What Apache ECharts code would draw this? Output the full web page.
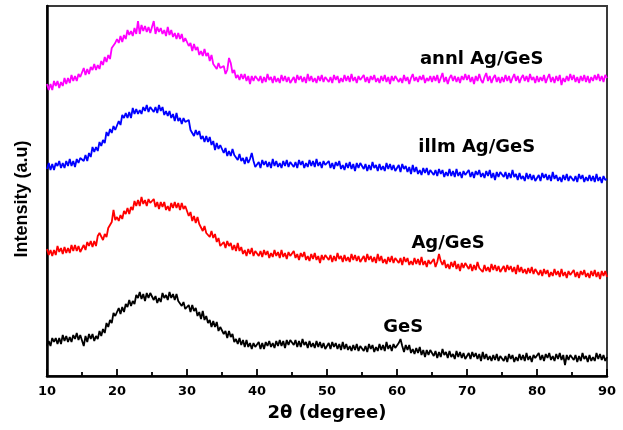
<!DOCTYPE html>
<html>
<head>
<meta charset="utf-8">
<script src="https://cdn.jsdelivr.net/npm/echarts@6/dist/echarts.min.js"></script>
<style>
  html, body { margin: 0; padding: 0; background: #ffffff; }
  #chart { width: 623px; height: 430px; }
</style>
</head>
<body>
<div id="chart"></div>
<script>
// XRD scan grid: 2θ from 10° to 90° in 0.25° steps
const scanStart = 10;
const scanStep = 0.25;

// Intensities (a.u.), each pattern already offset vertically for stacking
const annlAgGeS = [
  292,286,292,286,295,290,295,288,294,290,298,292,298,293,301,295,300,295,302,299,
  301,308,301,307,302,309,306,312,306,311,307,315,311,319,314,321,317,328,326,333,
  337,333,340,334,341,337,346,341,345,340,348,342,355,342,351,345,350,344,349,343,
  343,355,342,349,344,348,342,346,340,349,341,346,339,343,337,343,337,342,334,338,
  338,330,333,325,332,326,329,321,325,320,327,320,323,315,321,312,314,307,313,308,
  306,310,302,306,318,313,303,306,298,301,296,302,297,302,295,300,292,300,295,300,
  301,295,300,293,299,294,302,296,299,293,300,294,298,293,301,295,300,294,299,293,
  294,299,293,301,296,300,294,299,293,302,295,300,294,298,293,300,295,301,294,299,
  300,294,299,293,301,296,300,293,298,294,301,295,300,294,302,295,299,293,300,296,
  295,301,294,299,293,300,296,301,294,298,293,300,295,301,294,299,292,300,295,300,
  300,294,298,293,301,295,299,292,298,302,295,299,294,300,296,301,293,298,295,300,
  294,300,295,301,293,298,303,294,299,292,298,301,295,300,294,299,293,300,296,302,
  296,301,294,299,292,300,295,302,296,293,299,303,295,300,293,298,301,294,299,293,
  299,294,301,295,300,293,298,302,295,300,293,298,301,295,300,294,302,296,299,293,
  300,294,299,295,301,293,298,302,294,299,293,300,295,301,291,298,294,300,295,302,
  296,301,294,299,293,300,295,301,294,300,293,299,295,301,296,302,295,300,294,301,
  298
];

const illmAgGeS = [
  207,213,206,212,206,213,210,215,208,213,208,215,210,217,210,215,209,217,213,218,
  220,215,221,215,223,219,229,224,229,225,234,230,236,233,244,240,247,243,250,246,
  248,255,251,261,258,263,258,264,258,268,262,267,262,266,262,269,265,271,264,269,
  270,264,269,263,271,265,269,261,265,260,265,258,262,255,263,255,258,252,258,254,
  252,256,246,248,240,246,241,245,237,240,234,240,234,239,231,235,226,233,227,231,
  230,223,228,220,225,220,227,221,223,216,222,215,218,212,219,213,217,223,215,209,
  209,214,208,216,211,215,209,214,208,217,210,215,209,213,208,215,210,216,209,214,
  215,209,214,208,216,211,215,208,213,209,216,210,215,209,217,210,214,208,215,211,
  209,215,208,213,207,214,210,215,207,211,206,213,208,214,207,212,205,213,208,213,
  213,207,212,205,211,206,214,208,211,205,212,206,210,205,213,207,212,206,211,205,
  206,211,204,212,207,210,204,209,202,211,204,209,202,206,201,208,203,208,201,206,
  207,201,206,200,207,202,206,199,204,200,207,200,205,199,207,200,204,198,205,201,
  200,206,199,204,198,205,201,206,199,203,198,205,200,206,198,203,196,204,199,204,
  205,199,204,197,203,198,206,199,202,196,203,197,200,195,203,197,202,196,201,195,
  196,201,195,203,198,202,196,201,195,204,197,201,195,199,194,201,196,202,195,200,
  201,195,200,194,202,197,201,194,199,195,201,195,200,194,202,195,199,193,200,196,
  197
];

const agGeS = [
  127,121,126,120,126,121,130,124,128,122,129,123,128,123,131,125,131,125,130,124,
  126,131,126,134,130,135,129,135,130,140,143,141,136,142,139,148,146,154,166,156,
  159,155,161,157,165,162,168,162,169,166,175,170,176,170,179,172,176,170,177,173,
  171,177,169,174,167,174,169,174,166,170,165,173,168,174,168,173,166,173,167,170,
  168,160,164,155,160,153,159,152,153,145,150,143,145,139,145,138,142,134,138,130,
  130,134,128,135,130,133,126,131,125,133,125,129,122,126,120,127,122,128,120,125,
  126,120,125,119,126,121,125,118,123,119,126,120,124,118,126,119,123,117,124,120,
  119,125,118,122,116,123,119,124,116,120,115,122,117,123,116,120,113,121,116,121,
  122,116,121,114,120,115,123,117,120,114,121,115,119,114,122,116,121,115,120,114,
  115,120,114,122,116,120,114,119,113,122,115,120,113,117,112,119,114,120,113,118,
  119,113,118,111,119,114,118,111,115,111,118,112,117,111,119,111,115,109,116,112,
  111,117,109,114,122,115,111,116,108,112,107,114,109,115,107,112,105,113,108,113,
  113,107,112,105,111,106,114,108,110,104,111,105,109,104,112,106,111,105,110,104,
  105,110,104,111,106,110,104,109,102,111,104,109,103,107,102,108,103,109,102,107,
  107,101,106,100,107,102,106,99,104,100,107,101,105,99,107,100,104,98,105,101,
  100,106,99,104,98,105,101,106,99,103,98,105,100,106,99,104,97,105,100,105,
  99
];

const geS = [
  30,35,30,38,34,38,32,38,32,41,35,40,34,39,34,41,37,43,36,41,
  41,30,40,34,42,37,42,35,40,37,45,40,47,43,53,49,56,53,63,60,
  61,68,62,69,64,72,69,76,70,75,72,81,78,84,77,82,75,83,78,83,
  83,76,80,73,78,74,83,78,81,76,84,78,82,76,82,75,77,70,74,67,
  67,71,64,71,65,68,60,64,57,65,56,60,53,56,49,55,49,54,45,49,
  49,42,45,38,45,39,42,34,37,32,38,31,36,29,36,29,33,27,33,29,
  28,34,27,33,27,34,30,35,29,33,28,35,30,36,30,35,28,36,31,36,
  37,31,36,29,35,29,37,31,34,28,35,29,33,28,35,29,34,28,33,27,
  28,33,27,34,29,33,27,32,26,34,27,32,26,30,25,31,26,32,25,30,
  31,25,30,24,32,27,31,24,29,25,32,26,31,25,34,27,31,25,32,28,
  27,33,37,30,24,31,26,31,23,27,22,28,23,29,21,26,19,26,21,26,
  26,20,25,18,24,19,27,21,24,18,25,19,22,17,25,19,24,18,23,17,
  18,23,17,24,19,23,17,22,15,24,17,22,16,20,15,21,16,22,15,20,
  21,15,20,14,22,17,21,14,19,15,22,16,21,15,23,16,20,14,21,18,
  17,23,16,21,15,22,18,23,16,20,15,22,17,23,16,21,11,21,16,21,
  22,16,21,14,20,15,23,17,20,14,21,15,19,15,23,17,22,16,21,15,
  19
];

const sampleNames = ['annl Ag/GeS', 'illm Ag/GeS', 'Ag/GeS', 'GeS'];
const sampleData = [annlAgGeS, illmAgGeS, agGeS, geS];
const sampleColors = ['#ff00ff', '#0000ff', '#ff0000', '#000000'];
// where each sample's name sits, in [2θ, intensity]
const nameAnchors = [[72.1, 317], [71.4, 229], [67.3, 133], [60.9, 49]];

const toPoints = arr => arr.map((v, i) => [scanStart + i * scanStep, v]);

const chart = echarts.init(document.getElementById('chart'), null, { renderer: 'canvas' });

const tickFont = { fontFamily: '"DejaVu Sans", sans-serif', fontWeight: 'bold', fontSize: 13, color: '#000' };

chart.setOption({
  animation: false,
  backgroundColor: '#ffffff',
  grid: {
    left: 47, right: 16, top: 6, bottom: 54,
    show: true, borderColor: '#3a3a3a', borderWidth: 2, backgroundColor: 'transparent'
  },
  xAxis: {
    type: 'value', min: 10, max: 90, interval: 10,
    name: '2θ (degree)', nameLocation: 'middle', nameGap: 28,
    nameTextStyle: { fontFamily: '"DejaVu Sans", sans-serif', fontWeight: 'bold', fontSize: 18, color: '#000' },
    axisLine: { show: true, onZero: false, lineStyle: { color: '#000', width: 2.5 } },
    axisTick: { show: true, inside: true, length: 7, lineStyle: { color: '#000', width: 1.8 } },
    minorTick: { show: true, splitNumber: 2, length: 4, lineStyle: { color: '#000', width: 1.8 } },
    axisLabel: Object.assign({ margin: 9 }, tickFont),
    splitLine: { show: false }
  },
  yAxis: {
    type: 'value', min: 0, max: 370,
    axisLine: { show: true, onZero: false, lineStyle: { color: '#000', width: 2.5 } },
    axisTick: { show: false },
    axisLabel: { show: false },
    splitLine: { show: false }
  },
  series: sampleData.map((arr, k) => ({
    name: sampleNames[k],
    type: 'line',
    data: toPoints(arr),
    showSymbol: false,
    symbol: 'none',
    smooth: false,
    lineStyle: { color: sampleColors[k], width: 1.8 },
    itemStyle: { color: sampleColors[k] },
    z: 3
  }))
});

// sample names beside each pattern, plus the vertical intensity title
const texts = nameAnchors.map((p, k) => {
  const px = chart.convertToPixel({ gridIndex: 0 }, p);
  return {
    type: 'text', x: px[0], y: px[1], z: 10,
    style: {
      text: sampleNames[k],
      fill: '#000',
      fontFamily: '"DejaVu Sans", sans-serif', fontWeight: 'bold', fontSize: 18,
      align: 'center', verticalAlign: 'middle',
      textAlign: 'center', textVerticalAlign: 'middle'
    }
  };
});
texts.push({
  type: 'text', x: 22, y: 199, rotation: Math.PI / 2, z: 10,
  style: {
    text: 'Intensity (a.u)',
    fill: '#000',
    fontFamily: '"Liberation Sans", Arial, sans-serif', fontWeight: 'bold', fontSize: 18,
    align: 'center', verticalAlign: 'middle',
    textAlign: 'center', textVerticalAlign: 'middle'
  }
});
chart.setOption({ graphic: texts });
</script>
</body>
</html>
